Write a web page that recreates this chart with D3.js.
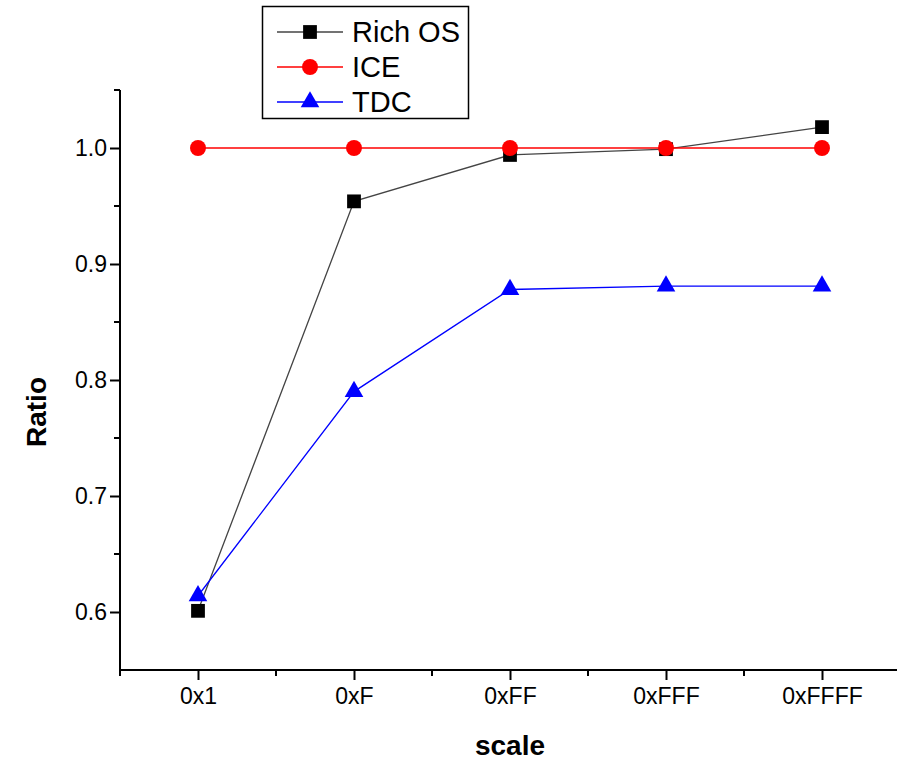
<!DOCTYPE html>
<html>
<head>
<meta charset="utf-8">
<script src="https://cdn.jsdelivr.net/npm/d3@7"></script>
<style>
	body { margin: 0; background: #fff; }
	svg { font-family: "Liberation Sans", Arial, sans-serif; }
</style>
</head>
<body>
<div id="chart"></div>
<script>
// categories and series
let scales = ["0x1", "0xF", "0xFF", "0xFFF", "0xFFFF"];
let richOS = [0.601, 0.954, 0.994, 0.999, 1.018];
let ice = [1.0, 1.0, 1.0, 1.0, 1.0];
let tdc = [0.614, 0.790, 0.878, 0.881, 0.881];
let yTicks = [0.6, 0.7, 0.8, 0.9, 1.0];

let width = 897;
let height = 763;
let margin = { top: 90, right: 0, bottom: 93, left: 120 };
let font = '"Liberation Sans", Arial, sans-serif';

let series = [
	{ name: "Rich OS", values: richOS, color: "#000", line: "#444", symbol: d3.symbolSquare, size: 190 },
	{ name: "ICE", values: ice, color: "#f00", line: "#f00", symbol: d3.symbolCircle, size: 200 },
	{ name: "TDC", values: tdc, color: "#00f", line: "#00f", symbol: d3.symbolTriangle, size: 150 }
];

let svg = d3.select('#chart')
	.append('svg')
	.attr('width', width)
	.attr('height', height);

// x index scale, domain padded half a step each side
let xScale = d3.scaleLinear()
	.domain([-0.5, 4.5])
	.range([120, 900]);

let yScale = d3.scaleLinear()
	.domain([0.55, 1.05])
	.range([height - margin.bottom, margin.top]);

// x axis: major ticks with labels, minor between
let xAxis = svg.append('g')
	.attr('transform', `translate(0,${height - margin.bottom})`)
	.call(d3.axisBottom(xScale).tickValues(d3.range(0, 5)).tickSize(10).tickPadding(8)
		.tickFormat(i => scales[i]));
xAxis.attr('font-family', font).attr('font-size', 23);
xAxis.select('.domain').attr('d', `M${xScale(-0.5)},0H${width}`).attr('stroke-width', 2);
xAxis.selectAll('.tick line').attr('stroke-width', 2);
xAxis.selectAll('.tick text').attr('fill', '#000');

svg.append('g')
	.attr('transform', `translate(0,${height - margin.bottom})`)
	.selectAll('line')
	.data([-0.5, 0.5, 1.5, 2.5, 3.5])
	.enter()
	.append('line')
	.attr('x1', d => xScale(d))
	.attr('x2', d => xScale(d))
	.attr('y1', 0)
	.attr('y2', 6)
	.attr('stroke', '#000')
	.attr('stroke-width', 2);

// y axis
let yAxis = svg.append('g')
	.attr('transform', `translate(${margin.left},0)`)
	.call(d3.axisLeft(yScale).tickValues(yTicks).tickSize(10).tickPadding(3).tickFormat(d3.format('.1f')));
yAxis.attr('font-family', font).attr('font-size', 23);
yAxis.select('.domain').attr('d', `M0,${yScale(1.05)}V${yScale(0.55)}`).attr('stroke-width', 2);
yAxis.selectAll('.tick line').attr('stroke-width', 2);
yAxis.selectAll('.tick text').attr('fill', '#000');

svg.append('g')
	.selectAll('line')
	.data([0.65, 0.75, 0.85, 0.95, 1.05])
	.enter()
	.append('line')
	.attr('x1', margin.left - 6)
	.attr('x2', margin.left)
	.attr('y1', d => yScale(d))
	.attr('y2', d => yScale(d))
	.attr('stroke', '#000')
	.attr('stroke-width', 2);

// lines and markers
let line = d3.line()
	.x((d, i) => xScale(i))
	.y(d => yScale(d));

series.forEach(s => {
	svg.append('path')
		.datum(s.values)
		.attr('d', line)
		.attr('fill', 'none')
		.attr('stroke', s.line)
		.attr('stroke-width', 1.3);
});

series.forEach(s => {
	svg.append('g')
		.selectAll('path')
		.data(s.values)
		.enter()
		.append('path')
		.attr('d', d3.symbol().type(s.symbol).size(s.size))
		.attr('transform', (d, i) => `translate(${xScale(i)},${yScale(d)})`)
		.attr('fill', s.color);
});

// axis titles
svg.append('text')
	.attr('transform', 'rotate(-90)')
	.attr('x', -412)
	.attr('y', 46)
	.style('text-anchor', 'middle')
	.attr('font-size', 28)
	.attr('font-weight', 'bold')
	.text('Ratio');

svg.append('text')
	.attr('x', 510)
	.attr('y', 755)
	.style('text-anchor', 'middle')
	.attr('font-size', 28)
	.attr('font-weight', 'bold')
	.text('scale');

// legend
let legend = svg.append('g');
legend.append('rect')
	.attr('x', 262.5)
	.attr('y', 6.5)
	.attr('width', 206)
	.attr('height', 112)
	.attr('fill', '#fff')
	.attr('stroke', '#000')
	.attr('stroke-width', 1.5);

series.forEach((s, i) => {
	let y = 32 + i * 35;
	legend.append('line')
		.attr('x1', 277).attr('x2', 343)
		.attr('y1', y).attr('y2', y)
		.attr('stroke', s.line)
		.attr('stroke-width', 1.3);
	legend.append('path')
		.attr('d', d3.symbol().type(s.symbol).size(s.size))
		.attr('transform', `translate(310,${y})`)
		.attr('fill', s.color);
	legend.append('text')
		.attr('x', 352)
		.attr('y', y + 10)
		.attr('font-size', 29)
		.text(s.name);
});
</script>
</body>
</html>
